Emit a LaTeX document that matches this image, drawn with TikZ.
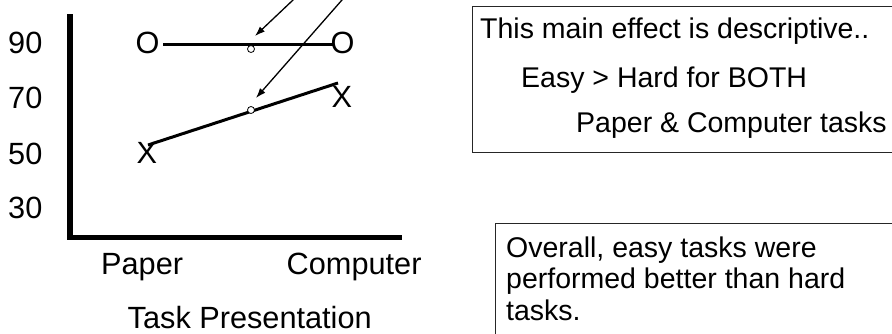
\documentclass[tikz,border=0pt]{standalone}
\usepackage{fontspec}
\setmainfont{Liberation Sans}
\usetikzlibrary{arrows.meta}
\begin{document}
\begin{tikzpicture}[x=1pt,y=-1pt,
  big/.style={font=\fontsize{30.7}{36}\selectfont, inner sep=0pt, anchor=base west},
  note/.style={font=\fontsize{28.5}{32}\selectfont, inner sep=0pt, anchor=base west},
  dot/.style={circle, draw, fill=white, line width=0.8pt, minimum size=7pt, inner sep=0pt},
  plotline/.style={line width=3pt},
  pointer/.style={line width=1.3pt, -{Latex[length=10pt,width=7pt]}},
  axis/.style={line width=5.5pt, line join=miter},
  frame/.style={line width=1pt, draw=black!85}]
\useasboundingbox (0,0) rectangle (892,333);

% axes
\coordinate (axtop) at (70,14);
\coordinate (axcorner) at (70,237.5);
\coordinate (axright) at (402,237.5);
\draw[axis] (axtop) -- (axcorner) -- (axright);

% y labels
\node[big] (y90) at (8,53) {90};
\node[big] (y70) at (8,108) {70};
\node[big] (y50) at (8,164) {50};
\node[big] (y30) at (8,218) {30};

% x labels
\node[big] (paper) at (101,274) {Paper};
\node[big] (computer) at (286.5,274) {Computer};
\node[big] (title) at (127.5,328) {Task Presentation};

% markers
\node[big] (oL) at (135.5,53) {O};
\node[big] (oR) at (330.5,53) {O};
\node[big] (xL) at (136.5,163) {X};
\node[big] (xR) at (331.5,107) {X};

% plot lines
\coordinate (oa) at (163,44);
\coordinate (ob) at (333,44);
\coordinate (xa) at (148,145);
\coordinate (xb) at (338,83);
\draw[plotline] (oa) -- (ob);
\draw[plotline] (xa) -- (xb);

% midpoint dots
\node[dot] (d1) at (251,49) {};
\node[dot] (d2) at (251,110) {};

% pointers
\coordinate (a1s) at (296.2,-3);
\coordinate (a1e) at (255,36);
\coordinate (a2s) at (344.6,-3);
\coordinate (a2e) at (256,98);
\draw[pointer] (a1s) -- (a1e);
\draw[pointer] (a2s) -- (a2e);

% box 1
\draw[frame] (893,6) -- (472,6) -- (472,152) -- (893,152);
\node[note] (t1) at (480,38) {This main effect is descriptive..};
\node[note] (t2) at (521,87) {Easy > Hard for BOTH};
\node[note] (t3) at (576,132) {Paper \& Computer tasks};

% box 2
\draw[frame] (893,223) -- (495,223) -- (495,334);
\node[note] (u1) at (506,257) {Overall, easy tasks were};
\node[note] (u2) at (506,288) {performed better than hard};
\node[note] (u3) at (506,320) {tasks.};
\end{tikzpicture}
\end{document}
